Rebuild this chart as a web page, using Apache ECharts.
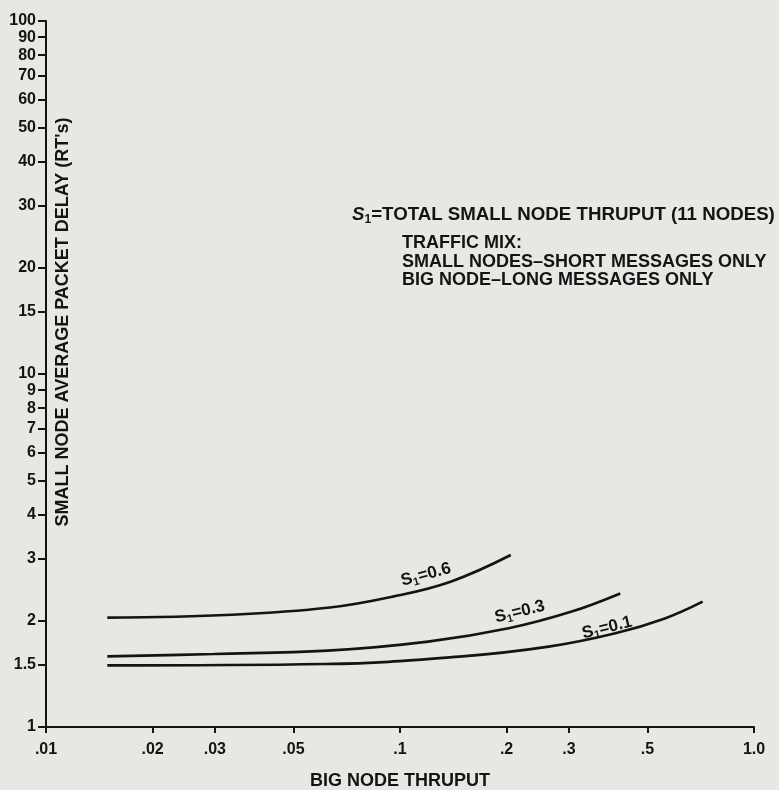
<!DOCTYPE html>
<html>
<head>
<meta charset="utf-8">
<script src="https://cdn.jsdelivr.net/npm/echarts@6/dist/echarts.min.js"></script>
<style>
html,body{margin:0;padding:0;background:#e7e7e4;}
#chart{width:779px;height:790px;}
</style>
</head>
<body>
<div id="chart"></div>
<script>
// ---- data ----
const xTickValues = [0.01, 0.02, 0.03, 0.05, 0.1, 0.2, 0.3, 0.5, 1];
const xTickLabels = ['.01', '.02', '.03', '.05', '.1', '.2', '.3', '.5', '1.0'];
const yTickValues = [1, 1.5, 2, 3, 4, 5, 6, 7, 8, 9, 10, 15, 20, 30, 40, 50, 60, 70, 80, 90, 100];
const yTickLabels = ['1', '1.5', '2', '3', '4', '5', '6', '7', '8', '9', '10', '15', '20', '30', '40', '50', '60', '70', '80', '90', '100'];

const thruput06 = [0.0149, 0.0335, 0.0634, 0.0953, 0.139, 0.2056];
const delay06   = [2.04, 2.08, 2.18, 2.34, 2.58, 3.07];
const thruput03 = [0.0149, 0.0298, 0.0625, 0.120, 0.2027, 0.304, 0.419];
const delay03   = [1.585, 1.61, 1.645, 1.745, 1.904, 2.12, 2.39];
const thruput01 = [0.0149, 0.0616, 0.147, 0.263, 0.406, 0.560, 0.716];
const delay01   = [1.494, 1.508, 1.582, 1.689, 1.843, 2.03, 2.265];

const curveNames = ['0.6', '0.3', '0.1'];
const curveLabelAt = [[0.1184, 2.70], [0.218, 2.12], [0.3846, 1.91]];
const curveLabelRotate = [15, 14, 14];

const xAxisName = 'BIG NODE THRUPUT';
const yAxisName = "SMALL NODE AVERAGE PACKET DELAY (RT's)";
const noteLines = ['TRAFFIC MIX:', 'SMALL NODES\u2013SHORT MESSAGES ONLY', 'BIG NODE\u2013LONG MESSAGES ONLY'];

// ---- chart ----
const FONT = "'Liberation Sans', Arial, Helvetica, sans-serif";
const INK = '#141414';

function pick(vals, labels, v) {
  for (let i = 0; i < vals.length; i++) {
    if (Math.abs(Math.log10(v) - Math.log10(vals[i])) < 1e-6) return labels[i];
  }
  return '';
}
function pairs(xs, ys) { return xs.map((x, i) => [x, ys[i]]); }

const richLbl = {
  s: {fontFamily: FONT, fontWeight: 'bold', fontSize: 17, color: INK},
  sub: {fontFamily: FONT, fontWeight: 'bold', fontSize: 11, color: INK, padding: [9, 0, 0, 0]}
};

function curve(xs, ys, idx) {
  return {
    type: 'line',
    name: 'S1=' + curveNames[idx],
    data: pairs(xs, ys),
    smooth: 0.4,
    showSymbol: false,
    silent: true,
    lineStyle: {color: INK, width: 2.7},
    markPoint: {
      symbol: 'circle', symbolSize: 0, silent: true,
      data: [{
        coord: curveLabelAt[idx],
        label: {
          show: true, position: 'inside', rotate: curveLabelRotate[idx],
          formatter: '{s|S}{sub|1}{s|=' + curveNames[idx] + '}',
          rich: richLbl
        }
      }]
    }
  };
}

const chart = echarts.init(document.getElementById('chart'), null, {renderer: 'canvas'});
chart.setOption({
  backgroundColor: '#e7e7e4',
  animation: false,
  grid: {left: 46, right: 25, top: 21, bottom: 63, containLabel: false, outerBoundsMode: 'none'},
  xAxis: {
    type: 'log', logBase: 10, min: 0.01, max: 1,
    name: xAxisName, nameLocation: 'middle', nameGap: 45,
    nameTextStyle: {fontFamily: FONT, fontWeight: 'bold', fontSize: 18, color: INK},
    axisLine: {show: true, lineStyle: {color: INK, width: 2}},
    axisTick: {show: true, inside: false, length: 6, lineStyle: {color: INK, width: 2}, customValues: xTickValues},
    axisLabel: {
      show: true, margin: 15, fontFamily: FONT, fontWeight: 'bold', fontSize: 16, color: INK,
      customValues: xTickValues, showMinLabel: true, showMaxLabel: true,
      formatter: v => pick(xTickValues, xTickLabels, v)
    },
    minorTick: {show: false},
    splitLine: {show: false}
  },
  yAxis: {
    type: 'log', logBase: 10, min: 1, max: 100,
    axisLine: {show: true, lineStyle: {color: INK, width: 2}},
    axisTick: {show: true, inside: false, length: 8, lineStyle: {color: INK, width: 2}, customValues: yTickValues},
    axisLabel: {
      show: true, margin: 10, fontFamily: FONT, fontWeight: 'bold', fontSize: 16, color: INK,
      customValues: yTickValues, showMinLabel: true, showMaxLabel: true,
      formatter: v => pick(yTickValues, yTickLabels, v)
    },
    splitLine: {show: false}
  },
  series: [
    curve(thruput06, delay06, 0),
    curve(thruput03, delay03, 1),
    curve(thruput01, delay01, 2)
  ],
  graphic: [
    {
      type: 'text', x: 63, y: 322, rotation: Math.PI / 2,
      style: {text: yAxisName, fill: INK, font: 'bold 18px ' + FONT, align: 'center', verticalAlign: 'middle'}
    },
    {
      type: 'text', x: 352, y: 215,
      style: {
        text: '{si|S}{sub|1}{t|=TOTAL SMALL NODE THRUPUT (11 NODES)}',
        verticalAlign: 'middle',
        rich: {
          si: {fontFamily: FONT, fontWeight: 'bold', fontStyle: 'italic', fontSize: 18.7, fill: INK},
          sub: {fontFamily: FONT, fontWeight: 'bold', fontSize: 12, fill: INK, padding: [9, 0, 0, 0]},
          t: {fontFamily: FONT, fontWeight: 'bold', fontSize: 18.7, fill: INK}
        }
      }
    },
    {
      type: 'text', x: 402, y: 234,
      style: {text: noteLines.join('\n'), fill: INK, font: 'bold 18px ' + FONT, lineHeight: 18.5, verticalAlign: 'top'}
    }
  ]
});
</script>
</body>
</html>
